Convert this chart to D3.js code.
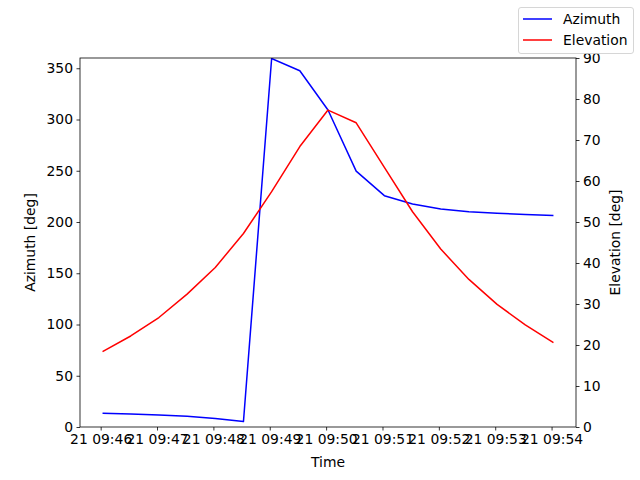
<!DOCTYPE html>
<html>
<head>
<meta charset="utf-8">
<script src="https://cdn.jsdelivr.net/npm/d3@7"></script>
<style>
  body { margin: 0; background: #fff; }
  text { font-family: "DejaVu Sans", sans-serif; }
</style>
</head>
<body>
<div id="chart-container"></div>
<script>
(function() {
  'use strict';

// one sample every 30 s starting 09:46:02
const START = '2024-01-21T09:46:02';
const STEP_SEC = 30;

const azimuth = [13.3, 12.6, 11.8, 10.4, 8.4, 5.3, 359.5, 347.6, 309.3, 249.6,
                 225.7, 217.6, 212.7, 210.0, 208.5, 207.3, 206.4];
const elevation = [18.4, 22.2, 26.7, 32.4, 38.9, 47.2, 57.4, 68.4, 77.3, 74.2,
                   63.3, 52.5, 43.4, 36.0, 29.9, 24.9, 20.6];

const azTicks = [0, 50, 100, 150, 200, 250, 300, 350];
const elTicks = [0, 10, 20, 30, 40, 50, 60, 70, 80, 90];
const timeTicks = ['09:46', '09:47', '09:48', '09:49', '09:50', '09:51', '09:52', '09:53', '09:54'];

const chart = '#chart-container';
const W = 640;
const H = 480;
const LEFT = 80, RIGHT = 576, TOP = 58, BOTTOM = 427;
const FS = '13.9px';

const t0 = new Date(START);
const times = azimuth.map((d, i) => new Date(t0.getTime() + i * STEP_SEC * 1000));
const tickDates = timeTicks.map(s => new Date('2024-01-21T' + s + ':00'));

// matplotlib style 5% margin on x
const span = times[times.length - 1] - times[0];
const xScale = d3.scaleTime()
  .domain([new Date(+times[0] - span * 0.05), new Date(+times[times.length - 1] + span * 0.05)])
  .range([LEFT, RIGHT]);

const yAz = d3.scaleLinear().domain([0, 360]).range([BOTTOM, TOP]);
const yEl = d3.scaleLinear().domain([0, 90]).range([BOTTOM, TOP]);

const svg = d3.select(chart)
  .append('svg')
    .attr('width', W)
    .attr('height', H);

const xAxis = d3.axisBottom(xScale)
  .tickValues(tickDates)
  .tickFormat(d => '21 ' + d3.timeFormat('%H:%M')(d))
  .tickSize(3.5).tickPadding(3.5);

const yAxisL = d3.axisLeft(yAz).tickValues(azTicks).tickSize(3.5).tickPadding(3.5);
const yAxisR = d3.axisRight(yEl).tickValues(elTicks).tickSize(3.5).tickPadding(3.5);

function styleAxis(g) {
  g.select('.domain').remove();
  g.selectAll('.tick line').attr('stroke', '#000').attr('stroke-width', 0.8);
  g.selectAll('.tick text').attr('fill', '#000').style('font-size', FS)
    .style('font-family', '"DejaVu Sans", sans-serif');
}

svg.append('g')
  .attr('transform', `translate(0, ${BOTTOM})`)
  .call(xAxis)
  .call(styleAxis);

svg.append('g')
  .attr('transform', `translate(${LEFT}, 0)`)
  .call(yAxisL)
  .call(styleAxis);

svg.append('g')
  .attr('transform', `translate(${RIGHT}, 0)`)
  .call(yAxisR)
  .call(styleAxis);

const clip = svg.append('clipPath').attr('id', 'plotclip')
  .append('rect')
    .attr('x', LEFT).attr('y', TOP)
    .attr('width', RIGHT - LEFT).attr('height', BOTTOM - TOP);

const azLine = d3.line()
  .x((d, i) => xScale(times[i]))
  .y(d => yAz(d));

const elLine = d3.line()
  .x((d, i) => xScale(times[i]))
  .y(d => yEl(d));

const plot = svg.append('g').attr('clip-path', 'url(#plotclip)');

plot.append('path')
  .datum(azimuth)
  .attr('d', azLine)
  .attr('fill', 'none')
  .attr('stroke', 'blue')
  .attr('stroke-width', 1.5)
  .attr('stroke-linejoin', 'round');

plot.append('path')
  .datum(elevation)
  .attr('d', elLine)
  .attr('fill', 'none')
  .attr('stroke', 'red')
  .attr('stroke-width', 1.5)
  .attr('stroke-linejoin', 'round');

// frame
svg.append('rect')
  .attr('x', LEFT).attr('y', TOP)
  .attr('width', RIGHT - LEFT).attr('height', BOTTOM - TOP)
  .attr('fill', 'none')
  .attr('stroke', '#000')
  .attr('stroke-width', 0.8);

// axis labels
svg.append('text')
  .attr('x', (LEFT + RIGHT) / 2).attr('y', 467)
  .attr('text-anchor', 'middle')
  .style('font-size', FS)
  .text('Time');

svg.append('text')
  .attr('transform', `translate(35, ${(TOP + BOTTOM) / 2}) rotate(-90)`)
  .attr('text-anchor', 'middle')
  .style('font-size', FS)
  .text('Azimuth [deg]');

svg.append('text')
  .attr('transform', `translate(620, ${(TOP + BOTTOM) / 2}) rotate(-90)`)
  .attr('text-anchor', 'middle')
  .style('font-size', FS)
  .text('Elevation [deg]');

// legend
const legend = svg.append('g');
legend.append('rect')
  .attr('x', 518.5).attr('y', 7.5)
  .attr('width', 115).attr('height', 46)
  .attr('rx', 2.5)
  .attr('fill', '#fff')
  .attr('fill-opacity', 0.8)
  .attr('stroke', '#ccc')
  .attr('stroke-width', 0.8);

const legendItems = [['Azimuth', 'blue'], ['Elevation', 'red']];
legendItems.forEach((item, i) => {
  const y = 19 + i * 21;
  legend.append('line')
    .attr('x1', 523).attr('x2', 552)
    .attr('y1', y).attr('y2', y)
    .attr('stroke', item[1])
    .attr('stroke-width', 1.5);
  legend.append('text')
    .attr('x', 563).attr('y', y)
    .attr('dy', '0.35em')
    .style('font-size', FS)
    .text(item[0]);
});

})();
</script>
</body>
</html>
